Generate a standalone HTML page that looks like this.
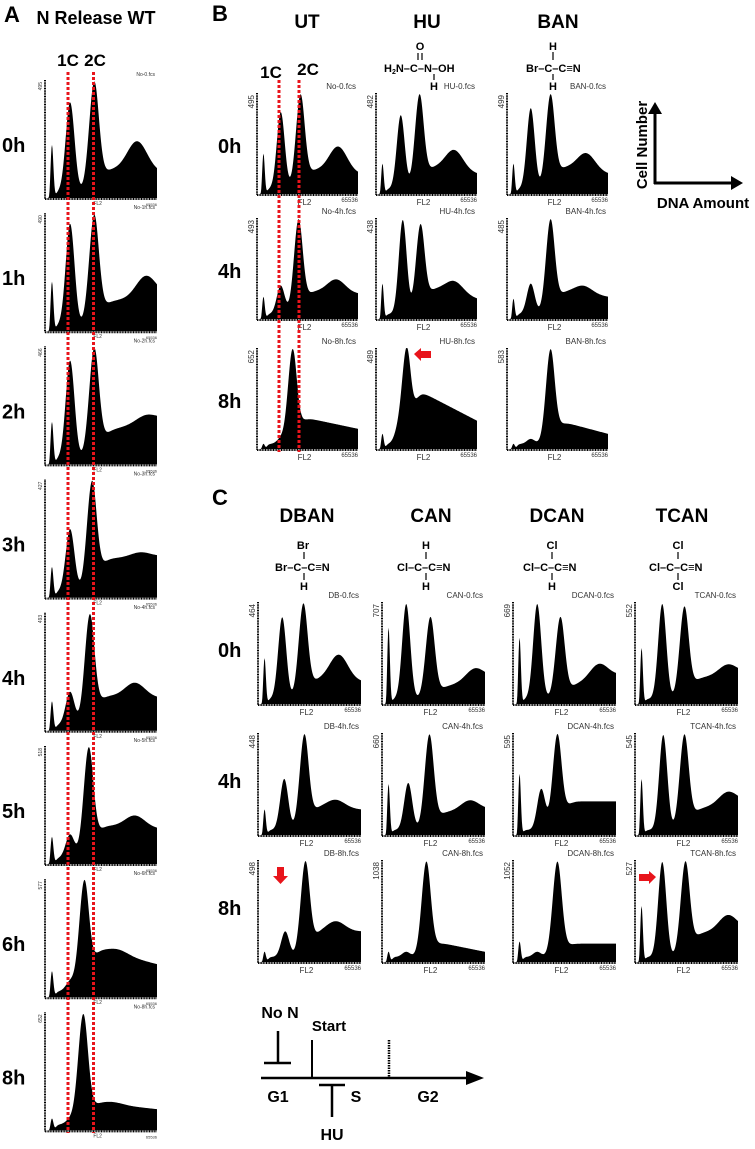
<!DOCTYPE html>
<html><head><meta charset="utf-8">
<style>
body{margin:0;background:#fff;}
svg{display:block;font-family:"Liberation Sans",Arial,sans-serif;}
.b{font-weight:bold;}
</style></head>
<body>
<svg id="fig" width="755" height="1149" viewBox="0 0 755 1149" xmlns="http://www.w3.org/2000/svg">
<g id="static">
  <text x="4" y="22" class="b" font-size="22">A</text>
  <text x="96" y="24" class="b" font-size="18" text-anchor="middle">N Release WT</text>
  <text x="68" y="66" class="b" font-size="17" text-anchor="middle">1C</text>
  <text x="95" y="66" class="b" font-size="17" text-anchor="middle">2C</text>

  <text x="212" y="21" class="b" font-size="22">B</text>
  <text x="307" y="28" class="b" font-size="19" text-anchor="middle">UT</text>
  <text x="427" y="28" class="b" font-size="19" text-anchor="middle">HU</text>
  <text x="558" y="28" class="b" font-size="19" text-anchor="middle">BAN</text>
  <text x="271" y="78" class="b" font-size="17" text-anchor="middle">1C</text>
  <text x="308" y="75" class="b" font-size="17" text-anchor="middle">2C</text>

  <g class="b" font-size="11">
    <text x="420" y="50" text-anchor="middle">O</text>
    <line x1="418" y1="53" x2="418" y2="60" stroke="#000" stroke-width="1.2"/>
    <line x1="422" y1="53" x2="422" y2="60" stroke="#000" stroke-width="1.2"/>
    <text x="384" y="72">H<tspan font-size="7" dy="2">2</tspan><tspan dy="-2">N–C–N–OH</tspan></text>
    <line x1="434" y1="74" x2="434" y2="80" stroke="#000" stroke-width="1.2"/>
    <text x="434" y="90" text-anchor="middle">H</text>
  </g>
  <g class="b" font-size="11">
    <text x="553" y="50" text-anchor="middle">H</text>
    <line x1="553" y1="52" x2="553" y2="60" stroke="#000" stroke-width="1.2"/>
    <text x="526" y="72">Br–C–C≡N</text>
    <line x1="553" y1="74" x2="553" y2="80" stroke="#000" stroke-width="1.2"/>
    <text x="553" y="90" text-anchor="middle">H</text>
  </g>

  <g>
    <line x1="655" y1="184" x2="655" y2="112" stroke="#000" stroke-width="3"/>
    <polygon points="648,114 662,114 655,102" fill="#000"/>
    <line x1="654" y1="183" x2="733" y2="183" stroke="#000" stroke-width="3"/>
    <polygon points="731,176 731,190 743,183" fill="#000"/>
    <text transform="translate(647,145) rotate(-90)" class="b" font-size="15" text-anchor="middle">Cell Number</text>
    <text x="703" y="208" class="b" font-size="15" text-anchor="middle">DNA Amount</text>
  </g>

  <text x="212" y="505" class="b" font-size="22">C</text>
  <text x="307" y="522" class="b" font-size="19" text-anchor="middle">DBAN</text>
  <text x="431" y="522" class="b" font-size="19" text-anchor="middle">CAN</text>
  <text x="557" y="522" class="b" font-size="19" text-anchor="middle">DCAN</text>
  <text x="682" y="522" class="b" font-size="19" text-anchor="middle">TCAN</text>

  <g class="b" font-size="11">
    <text x="303" y="549" text-anchor="middle">Br</text>
    <line x1="304" y1="552" x2="304" y2="559" stroke="#000" stroke-width="1.2"/>
    <text x="275" y="571">Br–C–C≡N</text>
    <line x1="304" y1="573" x2="304" y2="580" stroke="#000" stroke-width="1.2"/>
    <text x="304" y="590" text-anchor="middle">H</text>
  </g>
  <g class="b" font-size="11">
    <text x="426" y="549" text-anchor="middle">H</text>
    <line x1="426" y1="552" x2="426" y2="559" stroke="#000" stroke-width="1.2"/>
    <text x="397" y="571">Cl–C–C≡N</text>
    <line x1="426" y1="573" x2="426" y2="580" stroke="#000" stroke-width="1.2"/>
    <text x="426" y="590" text-anchor="middle">H</text>
  </g>
  <g class="b" font-size="11">
    <text x="552" y="549" text-anchor="middle">Cl</text>
    <line x1="552" y1="552" x2="552" y2="559" stroke="#000" stroke-width="1.2"/>
    <text x="523" y="571">Cl–C–C≡N</text>
    <line x1="552" y1="573" x2="552" y2="580" stroke="#000" stroke-width="1.2"/>
    <text x="552" y="590" text-anchor="middle">H</text>
  </g>
  <g class="b" font-size="11">
    <text x="678" y="549" text-anchor="middle">Cl</text>
    <line x1="678" y1="552" x2="678" y2="559" stroke="#000" stroke-width="1.2"/>
    <text x="649" y="571">Cl–C–C≡N</text>
    <line x1="678" y1="573" x2="678" y2="580" stroke="#000" stroke-width="1.2"/>
    <text x="678" y="590" text-anchor="middle">Cl</text>
  </g>

  <g>
    <text x="280" y="1018" class="b" font-size="16" text-anchor="middle">No N</text>
    <line x1="278" y1="1031" x2="278" y2="1063" stroke="#000" stroke-width="2.5"/>
    <line x1="264" y1="1063" x2="291" y2="1063" stroke="#000" stroke-width="2.5"/>
    <text x="329" y="1031" class="b" font-size="15" text-anchor="middle">Start</text>
    <line x1="312" y1="1040" x2="312" y2="1078" stroke="#000" stroke-width="2"/>
    <line x1="389" y1="1040" x2="389" y2="1078" stroke="#000" stroke-width="2.5" stroke-dasharray="1.5,1"/>
    <line x1="261" y1="1078" x2="470" y2="1078" stroke="#000" stroke-width="2.5"/>
    <polygon points="466,1071 466,1085 484,1078" fill="#000"/>
    <text x="278" y="1102" class="b" font-size="16" text-anchor="middle">G1</text>
    <text x="356" y="1102" class="b" font-size="16" text-anchor="middle">S</text>
    <text x="428" y="1102" class="b" font-size="16" text-anchor="middle">G2</text>
    <line x1="319" y1="1085" x2="345" y2="1085" stroke="#000" stroke-width="2.5"/>
    <line x1="332" y1="1085" x2="332" y2="1117" stroke="#000" stroke-width="2.5"/>
    <text x="332" y="1140" class="b" font-size="16" text-anchor="middle">HU</text>
  </g>
</g>
<g id="plots"></g>
<g id="overlay"></g>
</svg>
<script>
// ---- Panel A data (N release WT), rows 0h..8h ----
const A_times = ["0h","1h","2h","3h","4h","5h","6h","8h"];
const A_ymax = [495,490,466,427,493,518,577,652];
const A_files = ["No-0.fcs","No-1h.fcs","No-2h.fcs","No-3h.fcs","No-4h.fcs","No-5h.fcs","No-6h.fcs","No-8h.fcs"];
const A_debris = [0.45,0.42,0.36,0.26,0.25,0.23,0.22,0.1];
const A_p1 = [0.76,0.86,0.83,0.53,0.28,0.2,0.08,0.04];
const A_p1Pos = [0.21,0.21,0.21,0.21,0.21,0.21,0.21,0.21];
const A_p2 = [0.93,0.93,0.93,0.93,0.93,0.93,0.93,0.93];
const A_p2Pos = [0.43,0.43,0.43,0.41,0.39,0.38,0.34,0.33];
const A_platStart = [0.25,0.25,0.28,0.33,0.3,0.33,0.42,0.24];
const A_platEnd = [0.22,0.3,0.38,0.35,0.28,0.3,0.28,0.18];
const A_hump = [0.25,0.18,0.06,0.04,0.12,0.1,0.04,0.02];
const A_humpPos = [0.82,0.9,0.9,0.85,0.8,0.8,0.65,0.6];

// ---- Panel B data, order: UT 0/4/8, HU 0/4/8, BAN 0/4/8 ----
const B_ymax = [495,493,652,482,438,489,499,485,583];
const B_files = ["No-0.fcs","No-4h.fcs","No-8h.fcs","HU-0.fcs","HU-4h.fcs","HU-8h.fcs","BAN-0.fcs","BAN-4h.fcs","BAN-8h.fcs"];
const B_debris = [0.4,0.22,0.05,0.3,0.35,0.15,0.3,0.2,0.05];
const B_p1 = [0.76,0.28,0.05,0.73,0.93,0.1,0.8,0.3,0.05];
const B_p1Pos = [0.22,0.22,0.22,0.23,0.25,0.2,0.22,0.22,0.22];
const B_p2 = [0.93,0.93,0.93,0.93,0.88,0.93,0.93,0.93,0.93];
const B_p2Pos = [0.42,0.4,0.34,0.42,0.43,0.29,0.42,0.42,0.42];
const B_platStart = [0.25,0.28,0.32,0.28,0.32,0.6,0.28,0.28,0.28];
const B_platEnd = [0.2,0.25,0.2,0.2,0.2,0.28,0.2,0.22,0.15];
const B_hump = [0.25,0.13,0.0,0.2,0.12,0.0,0.17,0.08,0.0];
const B_humpPos = [0.8,0.78,0.7,0.77,0.77,0.7,0.78,0.75,0.7];

// ---- Panel C data, order: DBAN, CAN, DCAN, TCAN; each 0/4/8 ----
const C_ymax = [464,448,498,707,660,1038,669,595,1052,552,545,527];
const C_files = ["DB-0.fcs","DB-4h.fcs","DB-8h.fcs","CAN-0.fcs","CAN-4h.fcs","CAN-8h.fcs","DCAN-0.fcs","DCAN-4h.fcs","DCAN-8h.fcs","TCAN-0.fcs","TCAN-4h.fcs","TCAN-8h.fcs"];
const C_debris = [0.45,0.25,0.1,0.75,0.5,0.1,0.65,0.6,0.2,0.55,0.55,0.55];
const C_p1 = [0.8,0.5,0.25,0.93,0.46,0.05,0.93,0.4,0.05,0.93,0.93,0.93];
const C_p1Pos = [0.22,0.24,0.25,0.22,0.24,0.22,0.22,0.26,0.22,0.25,0.26,0.25];
const C_p2 = [0.93,0.93,0.93,0.8,0.93,0.93,0.8,0.93,0.93,0.9,0.93,0.93];
const C_p2Pos = [0.43,0.44,0.45,0.46,0.45,0.42,0.45,0.42,0.42,0.47,0.47,0.48];
const C_platStart = [0.25,0.28,0.3,0.16,0.22,0.2,0.18,0.33,0.18,0.25,0.25,0.28];
const C_platEnd = [0.22,0.25,0.3,0.25,0.25,0.1,0.28,0.33,0.18,0.3,0.32,0.32];
const C_hump = [0.25,0.08,0.1,0.12,0.1,0.0,0.15,0.0,0.0,0.1,0.12,0.15];
const C_humpPos = [0.78,0.75,0.75,0.9,0.85,0.7,0.83,0.8,0.7,0.9,0.9,0.9];

const NS = "http://www.w3.org/2000/svg";
const plots = document.getElementById("plots");
const overlay = document.getElementById("overlay");

function g(x,m,s){return Math.exp(-0.5*((x-m)/s)*((x-m)/s));}
function sig(z){return 1/(1+Math.exp(-z));}

function density(x,p){
  let y = p.debris*g(x,0.045,0.013)
        + p.p1*g(x,p.p1Pos,0.04)
        + p.p2*g(x,p.p2Pos,0.047)
        + 0.05*sig((x-0.08)/0.01)*sig((p.p2Pos+0.03-x)/0.01);
  const ps = p.p2Pos+0.08;
  const t = Math.max(0,(x-ps)/(1-ps));
  const plat = p.platStart + (p.platEnd-p.platStart)*t;
  y += plat*sig((x-ps)/0.025) + p.hump*g(x,p.humpPos,0.09)*sig((x-ps)/0.03);
  y *= sig((x-0.022)/0.004);
  return Math.min(y,1);
}

function mk(tag,attrs,parent){
  const e=document.createElementNS(NS,tag);
  for(const k in attrs) e.setAttribute(k,attrs[k]);
  parent.appendChild(e);
  return e;
}

function drawHist(x0,top,w,h,p,ymax,file,name){
  const grp=document.createElementNS(NS,"g");
  
  
  plots.appendChild(grp);
  const small = w>105;
  const xs = v => x0 + 2 + v*(w-2);
  const ys = v => top + h - v*h;
  let d = "M"+xs(0)+","+ys(0);
  for(let i=0;i<=220;i++){const v=i/220; d+=" L"+xs(v).toFixed(2)+","+ys(density(v,p)).toFixed(2);}
  d += " L"+xs(1)+","+ys(0)+" Z";
  const path=mk("path",{d:d,fill:"#000"},grp);
  
  
  const ya=mk("line",{x1:x0,y1:top,x2:x0,y2:top+h+1,stroke:"#000","stroke-width":2,"stroke-dasharray":"1,0.6"},grp);
  
  
  const xa=mk("line",{x1:x0,y1:top+h+1,x2:x0+w,y2:top+h+1,stroke:"#000","stroke-width":2,"stroke-dasharray":"1,0.6"},grp);
  
  
  const yl=mk("text",{transform:"translate("+(x0-3)+","+(top+2)+") rotate(-90)","font-size":small?5:8,"text-anchor":"end",fill:"#333"},grp);
  yl.textContent=ymax;
  
  
  const fl=mk("text",{x:x0+w-2,y:top-4,"font-size":small?5:8,"text-anchor":"end",fill:"#333"},grp);
  fl.textContent=file;
  
  
  const xl=mk("text",{x:x0+0.47*w,y:top+h+(small?7:11),"font-size":small?5:8,"text-anchor":"middle",fill:"#333"},grp);
  xl.textContent="FL2";
  
  
  const xm=mk("text",{x:x0+w,y:top+h+8,"font-size":small?4:6,"text-anchor":"end",fill:"#333"},grp);
  xm.textContent="65536";
  
  
}

function params(D,i){
  return {debris:D.debris[i],p1:D.p1[i],p1Pos:D.p1Pos[i],p2:D.p2[i],p2Pos:D.p2Pos[i],
          platStart:D.platStart[i],platEnd:D.platEnd[i],hump:D.hump[i],humpPos:D.humpPos[i]};
}
const AD={debris:A_debris,p1:A_p1,p1Pos:A_p1Pos,p2:A_p2,p2Pos:A_p2Pos,platStart:A_platStart,platEnd:A_platEnd,hump:A_hump,humpPos:A_humpPos};
const BD={debris:B_debris,p1:B_p1,p1Pos:B_p1Pos,p2:B_p2,p2Pos:B_p2Pos,platStart:B_platStart,platEnd:B_platEnd,hump:B_hump,humpPos:B_humpPos};
const CD={debris:C_debris,p1:C_p1,p1Pos:C_p1Pos,p2:C_p2,p2Pos:C_p2Pos,platStart:C_platStart,platEnd:C_platEnd,hump:C_hump,humpPos:C_humpPos};

function rowLabel(txt,x,y,name){
  const t=mk("text",{x:x,y:y,"font-size":20,"font-weight":"bold"},overlay);
  t.textContent=txt;
  
  
}

// Panel A
for(let i=0;i<A_times.length;i++){
  const top=80+i*133.2;
  drawHist(45,top,112,118,params(AD,i),A_ymax[i],A_files[i],"hist-a-"+A_times[i]);
  rowLabel(A_times[i],2,top+72,"row-label-a-"+A_times[i]);
}
// Panel B
const B_cols=[257,376,507], B_rows=[93,218,348], B_times=["0h","4h","8h"];
for(let c=0;c<3;c++) for(let r=0;r<3;r++){
  drawHist(B_cols[c],B_rows[r],101,101,params(BD,c*3+r),B_ymax[c*3+r],B_files[c*3+r],"hist-b-"+c+"-"+B_times[r]);
}
for(let r=0;r<3;r++) rowLabel(B_times[r],218,B_rows[r]+60,"row-label-b-"+B_times[r]);
// Panel C
const C_cols=[258,382,513,635], C_rows=[602,733,860];
for(let c=0;c<4;c++) for(let r=0;r<3;r++){
  drawHist(C_cols[c],C_rows[r],103,102,params(CD,c*3+r),C_ymax[c*3+r],C_files[c*3+r],"hist-c-"+c+"-"+B_times[r]);
}
for(let r=0;r<3;r++) rowLabel(B_times[r],218,C_rows[r]+55,"row-label-c-"+B_times[r]);

// red dotted guide lines
function redLine(x,y1,y2,name){
  const l=mk("line",{x1:x,y1:y1,x2:x,y2:y2,stroke:"#e8141b","stroke-width":3,"stroke-dasharray":"3,2"},overlay);
  
  
}
redLine(68,72,1133,"guide-1c-a");
redLine(93.5,72,1133,"guide-2c-a");
redLine(279,80,452,"guide-1c-b");
redLine(299,80,452,"guide-2c-b");

// red arrows
function arrow(pts,name){
  const a=mk("polygon",{points:pts,fill:"#e8141b"},overlay);
  
  
}
arrow("414,354 421,348 421,351 431,351 431,358 421,358 421,361","arrow-hu-8h");
arrow("277,867 284,867 284,876 288,876 280.5,884 273,876 277,876","arrow-dban-8h");
arrow("639,874 649,874 649,871 656,877 649,884 649,881 639,881","arrow-tcan-8h");
</script>
</body></html>
